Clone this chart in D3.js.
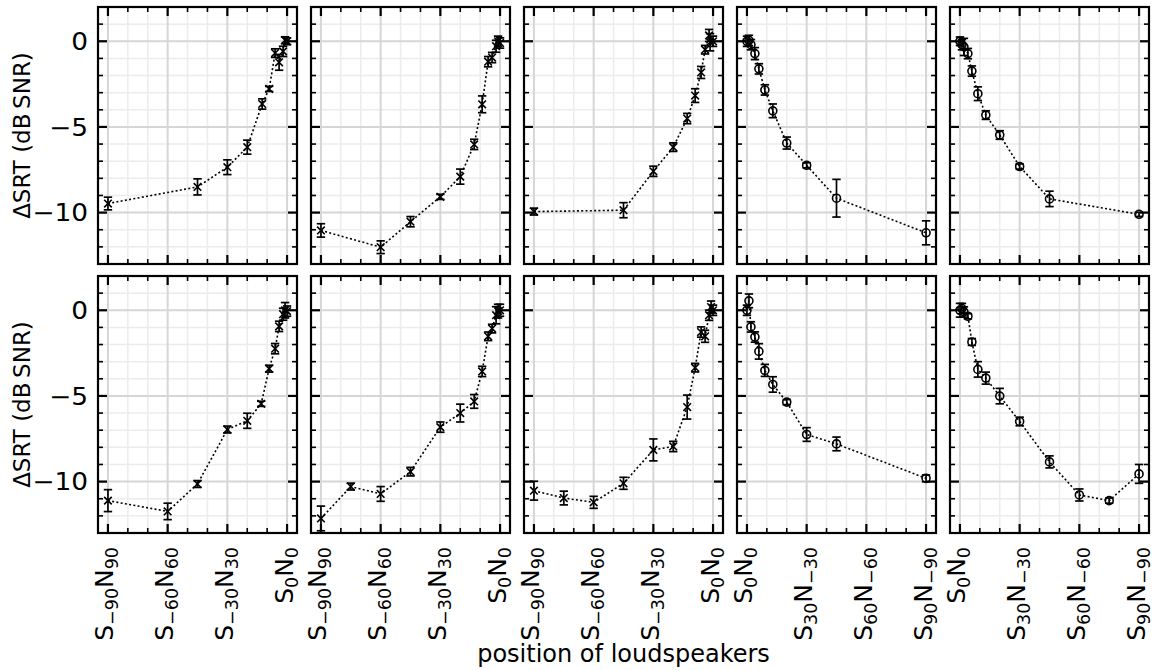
<!DOCTYPE html>
<html>
<head>
<meta charset="utf-8">
<script src="https://cdn.jsdelivr.net/npm/d3@7"></script>
<style>
  body { margin: 0; background: #fff; }
  text { font-family: "DejaVu Sans", sans-serif; fill: #000; }
</style>
</head>
<body>
<script>
"use strict";

// --- data: loudspeaker position (deg) , dSRT (dB SNR), error (dB) ---
// top row
const posTop1 = [-90, -45, -30, -20, -12.5, -9, -6, -4, -2, -1, 0];
const srtTop1 = [-9.47, -8.5, -7.35, -6.18, -3.66, -2.78, -0.69, -1.23, -0.59, 0.06, 0];
const errTop1 = [0.37, 0.47, 0.43, 0.41, 0.3, 0.15, 0.25, 0.46, 0.3, 0.2, 0.2];

const posTop2 = [-90, -60, -45, -30, -20, -13, -9, -6, -4, -2, -1, 0];
const srtTop2 = [-11.04, -12.02, -10.53, -9.08, -7.9, -6.02, -3.68, -1.19, -0.95, -0.29, 0, -0.1];
const errTop2 = [0.39, 0.37, 0.3, 0.15, 0.44, 0.3, 0.49, 0.3, 0.3, 0.35, 0.3, 0.3];

const posTop3 = [-90, -45, -30, -20, -13, -9, -6, -4, -2, -1.5, 0];
const srtTop3 = [-9.94, -9.86, -7.59, -6.18, -4.51, -3.17, -1.82, -0.49, 0.34, -0.06, 0];
const errTop3 = [0.2, 0.44, 0.3, 0.25, 0.3, 0.4, 0.35, 0.25, 0.35, 0.5, 0.3];

const posTop4 = [0, 1, 2, 4, 6, 9, 13, 20, 30, 45, 90];
const srtTop4 = [0, 0.05, -0.2, -0.72, -1.61, -2.84, -4.06, -5.94, -7.24, -9.16, -11.18];
const errTop4 = [0.3, 0.3, 0.3, 0.35, 0.3, 0.3, 0.4, 0.35, 0.15, 1.1, 0.7];

const posTop5 = [0, 1, 2, 4, 6, 9, 13, 20, 30, 45, 90];
const srtTop5 = [0, -0.2, -0.33, -0.72, -1.74, -3.06, -4.31, -5.47, -7.31, -9.2, -10.1];
const errTop5 = [0.25, 0.3, 0.5, 0.3, 0.3, 0.4, 0.25, 0.25, 0.15, 0.45, 0.12];

// bottom row
const posBot1 = [-90, -60, -45, -30, -20, -13, -9, -6, -4, -2, -1, 0];
const srtBot1 = [-11.11, -11.74, -10.14, -6.96, -6.45, -5.46, -3.41, -2.24, -0.94, -0.23, 0, -0.05];
const errBot1 = [0.64, 0.48, 0.2, 0.2, 0.44, 0.15, 0.2, 0.3, 0.3, 0.35, 0.45, 0.3];

const posBot2 = [-90, -75, -60, -45, -30, -20, -13, -9, -6, -4, -2, -1, 0];
const srtBot2 = [-12.15, -10.29, -10.72, -9.42, -6.82, -6.0, -5.32, -3.57, -1.52, -1.07, -0.29, -0.05, 0];
const errBot2 = [0.72, 0.2, 0.43, 0.25, 0.3, 0.52, 0.4, 0.3, 0.25, 0.25, 0.5, 0.4, 0.35];

const posBot3 = [-90, -75, -60, -45, -30, -20, -13, -9, -6, -4, -2, -1, 0];
const srtBot3 = [-10.53, -10.96, -11.21, -10.1, -8.15, -7.95, -5.65, -3.35, -1.27, -1.52, -0.29, 0.19, 0];
const errBot3 = [0.55, 0.4, 0.35, 0.35, 0.64, 0.3, 0.7, 0.25, 0.3, 0.35, 0.3, 0.35, 0.3];

const posBot4 = [0, 1, 2, 4, 6, 9, 13, 20, 30, 45, 90];
const srtBot4 = [0, 0.55, -0.97, -1.56, -2.4, -3.51, -4.33, -5.36, -7.25, -7.8, -9.81];
const errBot4 = [0.3, 0.4, 0.3, 0.3, 0.45, 0.35, 0.45, 0.15, 0.4, 0.4, 0.2];

const posBot5 = [0, 1, 2, 4, 6, 9, 13, 20, 30, 45, 60, 75, 90];
const srtBot5 = [0, 0.1, -0.1, -0.35, -1.85, -3.45, -3.96, -5.01, -6.49, -8.85, -10.78, -11.11, -9.55];
const errBot5 = [0.4, 0.3, 0.3, 0.15, 0.2, 0.45, 0.35, 0.45, 0.25, 0.35, 0.35, 0.15, 0.55];

// tick labels
const leftTicks = [-90, -60, -30, 0];
const leftTickLabels = [["\u221290", "90"], ["\u221260", "60"], ["\u221230", "30"], ["0", "0"]];
const rightTicks = [0, 30, 60, 90];
const rightTickLabels = [["0", "0"], ["30", "\u221230"], ["60", "\u221260"], ["90", "\u221290"]];
const yTicks = [0, -5, -10];
const yTickLabels = ["0", "\u22125", "\u221210"];

const yLabel = "\u0394SRT (dB\u2009SNR)";
const xLabel = "position of loudspeakers";

// --- layout ---
const width = 1158, height = 670;
const panelLeft = 98, panelStep = 213, panelW = 199;
const rowTops = [7, 276], panelH = 257;
const labelSize = 23, yTickSize = 24, xTickSize = 25;

const svg = d3.select("body").append("svg")
    .attr("width", width).attr("height", height);

const panels = [
    [posTop1, srtTop1, errTop1], [posTop2, srtTop2, errTop2], [posTop3, srtTop3, errTop3],
    [posTop4, srtTop4, errTop4], [posTop5, srtTop5, errTop5],
    [posBot1, srtBot1, errBot1], [posBot2, srtBot2, errBot2], [posBot3, srtBot3, errBot3],
    [posBot4, srtBot4, errBot4], [posBot5, srtBot5, errBot5]
];

panels.forEach((p, i) => {
    let row = Math.floor(i / 5), col = i % 5;
    let right = col >= 3;
    let x0 = panelLeft + col * panelStep, y0 = rowTops[row];

    let x = d3.scaleLinear().domain(right ? [-5, 95] : [-95, 5]).range([0, panelW]);
    let y = d3.scaleLinear().domain([-13, 2]).range([panelH, 0]);

    let g = svg.append("g").attr("transform", `translate(${x0},${y0})`);

    let xMajor = right ? rightTicks : leftTicks;
    let xMinor = d3.range(right ? 0 : -90, right ? 91 : 1, 10).filter(v => !xMajor.includes(v));
    let yMinor = d3.range(-12, 2).filter(v => !yTicks.includes(v));

    // grid (minor first, major on top)
    g.selectAll(".gxm").data(xMinor).enter().append("line")
        .attr("x1", d => x(d)).attr("x2", d => x(d)).attr("y1", 0).attr("y2", panelH)
        .style("stroke", "#ececec").style("stroke-width", 1.5);
    g.selectAll(".gym").data(yMinor).enter().append("line")
        .attr("y1", d => y(d)).attr("y2", d => y(d)).attr("x1", 0).attr("x2", panelW)
        .style("stroke", "#ececec").style("stroke-width", 1.5);
    g.selectAll(".gxM").data(xMajor).enter().append("line")
        .attr("x1", d => x(d)).attr("x2", d => x(d)).attr("y1", 0).attr("y2", panelH)
        .style("stroke", "#d6d6d6").style("stroke-width", 2);
    g.selectAll(".gyM").data(yTicks).enter().append("line")
        .attr("y1", d => y(d)).attr("y2", d => y(d)).attr("x1", 0).attr("x2", panelW)
        .style("stroke", "#d6d6d6").style("stroke-width", 2);

    // inward ticks on all four sides
    let tick = (vals, len, w, horiz) => {
        vals.forEach(v => {
            if (horiz) {
                g.append("line").attr("x1", x(v)).attr("x2", x(v)).attr("y1", panelH).attr("y2", panelH - len)
                    .style("stroke", "#000").style("stroke-width", w);
                g.append("line").attr("x1", x(v)).attr("x2", x(v)).attr("y1", 0).attr("y2", len)
                    .style("stroke", "#000").style("stroke-width", w);
            } else {
                g.append("line").attr("y1", y(v)).attr("y2", y(v)).attr("x1", 0).attr("x2", len)
                    .style("stroke", "#000").style("stroke-width", w);
                g.append("line").attr("y1", y(v)).attr("y2", y(v)).attr("x1", panelW).attr("x2", panelW - len)
                    .style("stroke", "#000").style("stroke-width", w);
            }
        });
    };
    tick(xMinor, 5, 1.6, true);
    tick(xMajor, 9, 2.2, true);
    tick(yMinor, 5, 1.6, false);
    tick(yTicks, 9, 2.2, false);

    // dotted connecting line
    let pts = p[0].map((v, k) => [v, p[1][k], p[2][k]]);
    g.append("path")
        .datum(pts)
        .attr("d", d3.line().x(d => x(d[0])).y(d => y(d[1])))
        .style("fill", "none").style("stroke", "#000")
        .style("stroke-width", 1.6).style("stroke-dasharray", "2,2.3");

    // error bars
    let eb = g.selectAll(".eb").data(pts).enter().append("g");
    eb.append("line")
        .attr("x1", d => x(d[0])).attr("x2", d => x(d[0]))
        .attr("y1", d => y(d[1] - d[2])).attr("y2", d => y(d[1] + d[2]))
        .style("stroke", "#000").style("stroke-width", 1.7);
    [-1, 1].forEach(s => {
        eb.append("line")
            .attr("x1", d => x(d[0]) - 4.2).attr("x2", d => x(d[0]) + 4.2)
            .attr("y1", d => y(d[1] + s * d[2])).attr("y2", d => y(d[1] + s * d[2]))
            .style("stroke", "#000").style("stroke-width", 1.7);
    });

    // markers
    if (right) {
        g.selectAll(".mk").data(pts).enter().append("circle")
            .attr("cx", d => x(d[0])).attr("cy", d => y(d[1])).attr("r", 4)
            .style("fill", "none").style("stroke", "#000").style("stroke-width", 1.6);
    } else {
        g.selectAll(".mk").data(pts).enter().append("path")
            .attr("transform", d => `translate(${x(d[0])},${y(d[1])})`)
            .attr("d", "M-3.8,-3.8L3.8,3.8M-3.8,3.8L3.8,-3.8")
            .style("fill", "none").style("stroke", "#000").style("stroke-width", 1.6);
    }

    // frame
    g.append("rect").attr("width", panelW).attr("height", panelH)
        .style("fill", "none").style("stroke", "#000").style("stroke-width", 2.2);

    // y tick labels + y label on first column
    if (col === 0) {
        g.selectAll(".yl").data(yTicks).enter().append("text")
            .attr("transform", d => `translate(-10,${y(d)}) scale(1.1,1)`)
            .attr("dy", "0.36em")
            .attr("text-anchor", "end").style("font-size", yTickSize + "px")
            .text((d, k) => yTickLabels[k]);
        g.append("text")
            .attr("transform", `translate(${-68},${panelH / 2}) rotate(-90)`)
            .attr("text-anchor", "middle").style("font-size", labelSize + "px")
            .text(yLabel);
    }

    // x tick labels on bottom row
    if (row === 1) {
        let labels = right ? rightTickLabels : leftTickLabels;
        xMajor.forEach((v, k) => {
            let t = g.append("text")
                .attr("transform", `translate(${x(v) + 5.5},${panelH + 14}) rotate(-90)`)
                .attr("text-anchor", "end").style("font-size", xTickSize + "px");
            t.append("tspan").text("S");
            t.append("tspan").attr("dy", 5).style("font-size", (xTickSize * 0.7) + "px").text(labels[k][0]);
            t.append("tspan").attr("dy", -5).text("N");
            t.append("tspan").attr("dy", 5).style("font-size", (xTickSize * 0.7) + "px").text(labels[k][1]);
        });
    }
});

svg.append("text")
    .attr("x", panelLeft + (4 * panelStep + panelW) / 2).attr("y", 662)
    .attr("text-anchor", "middle").style("font-size", "24px")
    .text(xLabel);
</script>
</body>
</html>
